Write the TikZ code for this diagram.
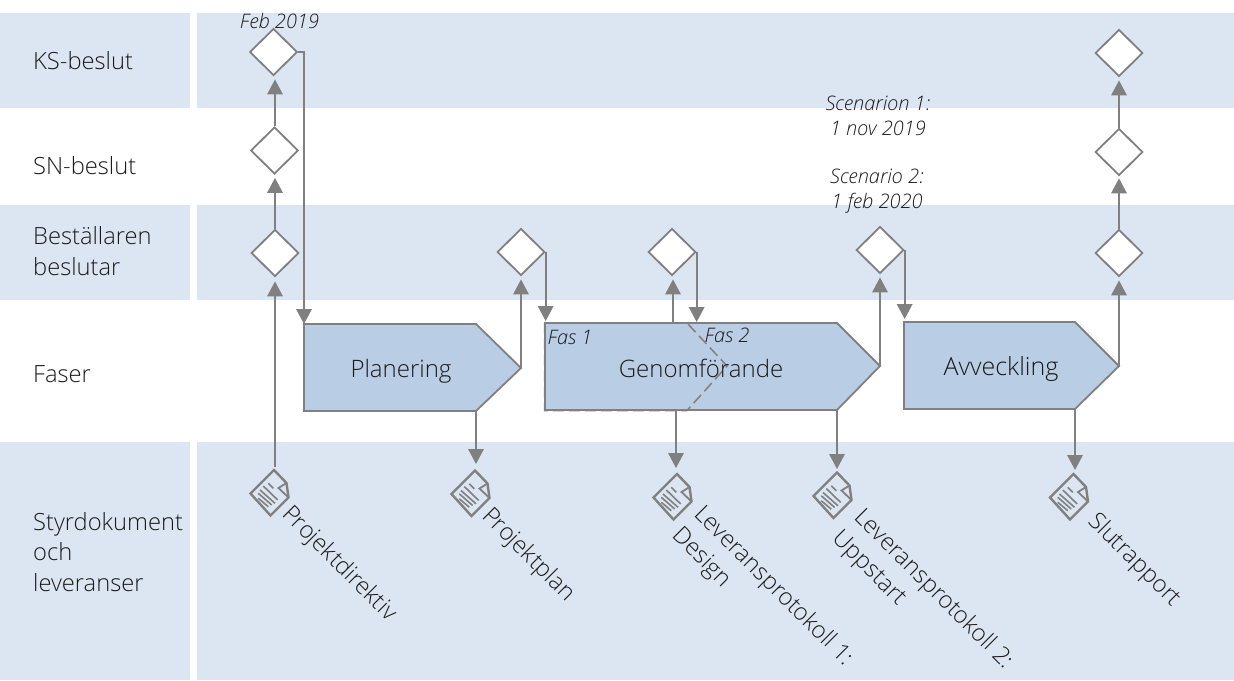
\documentclass[tikz,border=0pt]{standalone}
\usepackage{fontspec}
\setmainfont{Open Sans}[UprightFont=* Light,ItalicFont=* Light Italic]
\usetikzlibrary{arrows.meta,shapes.geometric}
\definecolor{band}{HTML}{DCE6F2}
\definecolor{phasefill}{HTML}{B9CDE5}
\definecolor{linegray}{HTML}{808080}
\definecolor{ink}{HTML}{1A1A1A}
\tikzset{
  x=1pt,y=-1pt,
  bandbox/.style={fill=band,draw=none},
  gate/.style={shape=diamond,draw=linegray,line width=1.8pt,fill=white,minimum width=47.5pt,minimum height=47pt,inner sep=0pt},
  phase/.style={draw=linegray,line width=1.8pt,fill=phasefill,line join=miter},
  phasedash/.style={draw=linegray,line width=1.5pt,dash pattern=on 11pt off 5pt},
  conn/.style={draw=linegray,line width=1.8pt,-{Triangle[width=15.5pt,length=15pt]}},
  rowlabel/.style={font=\fontsize{23.7}{30.5}\selectfont,text=ink,anchor=west,align=left,inner sep=0pt},
  phaselabel/.style={font=\fontsize{24}{30}\selectfont,text=ink,inner sep=0pt},
  note/.style={font=\itshape\fontsize{20}{25}\selectfont,text=ink,inner sep=0pt,align=center},
  doclabel/.style={font=\fontsize{23.7}{31}\selectfont,text=ink,rotate=-45,anchor=base west,inner sep=0pt},
  doclabeltwo/.style={font=\fontsize{23.7}{31}\selectfont,text=ink,rotate=-45,anchor=north west,inner sep=0pt,align=left},
  docline/.style={draw=linegray,line width=2.4pt},
  docrule/.style={draw=linegray,line width=1.6pt},
  docicon/.pic={
    \draw[docline,line join=miter,fill=band] (0,0) -- (-23.5,23.5) -- (-3.5,45.5) -- (14.5,27.5) -- (12.5,13) -- cycle;
    \draw[docline,line width=1.8pt] (12.5,13) -- (4.5,18) -- (14.5,27.5);
    \draw[docrule] (-5.7,13.3) -- (-0.7,18.3) (-10.7,16) -- (3.7,30) (-14,20) -- (1,33.3) (-15.7,23.3) -- (-2.3,35) (-15.7,28.3) -- (-5.7,36.7);
  }
}
\begin{document}
\begin{tikzpicture}
\useasboundingbox (0,0) rectangle (1234,680);
% bands
\path[bandbox] (0,13) rectangle (190,108);
\path[bandbox] (197,13) rectangle (1234,108);
\path[bandbox] (0,205) rectangle (190,300);
\path[bandbox] (197,205) rectangle (1234,300);
\path[bandbox] (0,442) rectangle (190,680);
\path[bandbox] (197,442) rectangle (1234,680);
% row labels
\node[rowlabel] (rks) at (33,61) {KS-beslut};
\node[rowlabel] (rsn) at (33,166) {SN-beslut};
\node[rowlabel] (rbe) at (33,251) {Beställaren\\beslutar};
\node[rowlabel] (rfa) at (33,374.5) {Faser};
\node[rowlabel] (rst) at (33,552) {Styrdokument\\och\\leveranser};
% phase shapes
\coordinate (planTL) at (304,324); \coordinate (planTR) at (476,324);
\coordinate (planTip) at (521,368); \coordinate (planBR) at (476,411); \coordinate (planBL) at (304,411);
\coordinate (genTL) at (545,323); \coordinate (genTR) at (837,323);
\coordinate (genTip) at (880,366); \coordinate (genBR) at (837,410); \coordinate (genBL) at (545,410);
\coordinate (avTL) at (904,322); \coordinate (avTR) at (1075,322);
\coordinate (avTip) at (1119,366); \coordinate (avBR) at (1075,409); \coordinate (avBL) at (904,409);
\coordinate (genUp) at (673,323); \coordinate (genDown) at (676,410);
\draw[phase] (planTL) -- (planTR) -- (planTip) -- (planBR) -- (planBL) -- cycle;
\draw[phase] (genTL) -- (genTR) -- (genTip) -- (genBR) -- (genBL) -- cycle;
\draw[phase] (avTL) -- (avTR) -- (avTip) -- (avBR) -- (avBL) -- cycle;
\draw[phasedash] (544.6,323) -- (687,323) -- (727,366) -- (687,410.5) -- (544.6,410.5) -- cycle;
\node[phaselabel] (lplan) at (401,371.5) {Planering};
\node[phaselabel] (lgen) at (701,368.5) {Genomförande};
\node[phaselabel,font=\fontsize{25}{30}\selectfont] (lav) at (1001,369) {Avveckling};
\node[note] (fas1) at (570,337) {Fas 1};
\node[note] (fas2) at (727,335) {Fas 2};
% gates
\node[gate] (k1) at (273.5,52) {};
\node[gate] (s1) at (274.5,150.5) {};
\node[gate] (b1) at (275,253) {};
\node[gate] (b2) at (521,252) {};
\node[gate] (b3) at (672,252) {};
\node[gate] (b4) at (880,250) {};
\node[gate] (b5) at (1119,253) {};
\node[gate] (s5) at (1119,152) {};
\node[gate] (k5) at (1119,53) {};
% notes
\node[note] (nfeb) at (279.5,21) {Feb 2019};
\node[note] (nsc1) at (878,116) {Scenarion 1:\\1 nov 2019};
\node[note] (nsc2) at (877,191.5) {Scenario 2:\\1 feb 2020};
% documents
\pic at (274,470) {docicon};
\pic at (475,470.5) {docicon};
\pic at (677,474) {docicon};
\pic at (837,472.5) {docicon};
\pic at (1073.5,474) {docicon};
\coordinate (d1) at (275,467); \coordinate (d2) at (476,464);
\coordinate (d3) at (676,468); \coordinate (d4) at (837,469); \coordinate (d5) at (1075,470);
\node[doclabel] (t1) at (281,515) {Projektdirektiv};
\node[doclabel] (t2) at (481,517) {Projektplan};
\node[doclabeltwo] (t3) at (706,502) {Leveransprotokoll 1:\\Design};
\node[doclabeltwo] (t4) at (866,505) {Leveransprotokoll 2:\\Uppstart};
\node[doclabel] (t5) at (1087,522) {Slutrapport};
% connectors
\draw[conn,shorten >=4pt] (d1) -- (d1 |- b1.south);
\draw[conn,shorten >=3pt] (b1.north) -- (b1.north |- s1.south);
\draw[conn,shorten >=3pt] (b1.north |- s1.north) -- (b1.north |- k1.south);
\draw[conn] (k1.east) -| (planTL);
\draw[conn,shorten >=3pt] (planTip) -- (planTip |- b2.south);
\draw[conn,shorten >=2pt] (b2.east) -- (b2.east |- genTL);
\draw[conn,shorten >=3pt] (genUp) -- (genUp |- b3.south);
\draw[conn,shorten >=1pt] (b3.east) -- (b3.east |- genTL);
\draw[conn,shorten >=3pt] (genTip) -- (genTip |- b4.south);
\draw[conn,shorten >=3pt] (b4.east) -- (b4.east |- avTL);
\draw[conn,shorten >=3pt] (avTip) -- (avTip |- b5.south);
\draw[conn,shorten >=2pt] (b5.north) -- (s5.south);
\draw[conn,shorten >=3pt] (s5.north) -- (k5.south);
\draw[conn] (planBR) -- (d2);
\draw[conn] (genDown) -- (d3);
\draw[conn] (genBR) -- (d4);
\draw[conn] (avBR) -- (d5);
\end{tikzpicture}
\end{document}
